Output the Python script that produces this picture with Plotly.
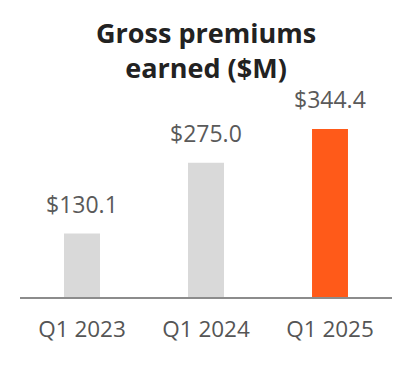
import plotly.graph_objects as go

categories = ["Q1 2023", "Q1 2024", "Q1 2025"]
values = [130.1, 275.0, 344.4]
labels = ["$130.1", "$275.0", "$344.4"]
colors = ["#d9d9d9", "#d9d9d9", "#ff5a19"]
title_text = "<b>Gross premiums<br>earned ($M)</b>"

FONT = "Open Sans"
TOP = 92
PLOT_H = 197

fig = go.Figure(go.Bar(x=categories, y=values, marker_color=colors,
                       marker_line_width=0, hoverinfo="skip"))

for c, v, t in zip(categories, values, labels):
    fig.add_annotation(x=c, y=v, text=t, showarrow=False, yanchor="bottom",
                       yshift=12, font=dict(family=FONT, size=23, color="#5a5a5a"))

# title, placed in paper coordinates above the plot area
fig.add_annotation(xref="paper", yref="paper", x=0.5, y=1 + (TOP - 4) / PLOT_H,
                   xanchor="center", yanchor="top", showarrow=False,
                   text=title_text,
                   font=dict(family=FONT, size=27, color="#222222"))

fig.update_layout(
    width=404, height=376,
    margin=dict(l=12, r=20, t=TOP, b=87, autoexpand=False),
    paper_bgcolor="white", plot_bgcolor="white",
    bargap=0.71,
    showlegend=False,
    xaxis=dict(showline=True, linecolor="#8c8c8c", linewidth=2, ticks="",
               tickfont=dict(family=FONT, size=22.5, color="#555555"),
               ticklabelstandoff=11, automargin=False, fixedrange=True),
    yaxis=dict(range=[0, 403.7], visible=False, fixedrange=True, automargin=False),
)

fig.write_html("out.html")
